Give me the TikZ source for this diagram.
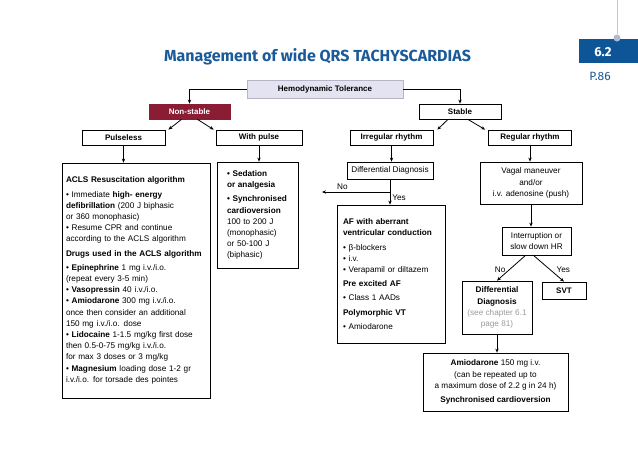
\documentclass[tikz,border=0pt]{standalone}
\usepackage{fontspec}
\setmainfont{Liberation Sans}
\newfontfamily\titlefont{Fira Sans}
\usetikzlibrary{arrows.meta}

\definecolor{titleblue}{HTML}{1B5A98}
\definecolor{tabblue}{HTML}{0D5597}
\definecolor{unstablered}{HTML}{8A1C34}
\definecolor{tolerancefill}{HTML}{E3E3F1}
\definecolor{tolerancedraw}{HTML}{B5B5C6}
\definecolor{pinline}{HTML}{C3C7D3}
\definecolor{pinhead}{HTML}{B2BAD3}
\definecolor{refgray}{HTML}{9A9A9A}

\tikzset{
  box/.style={draw, line width=0.8pt, inner sep=0pt, font=\BOXFONT, align=center},
  plainbox/.style={box, font=\TXTFONT},
  textbox/.style={draw, line width=0.8pt, inner ysep=0pt, font=\TXTFONT, align=left},
  answer/.style={font=\TXTFONT, inner sep=2pt},
}

\begin{document}
\begin{tikzpicture}[x=1pt, y=-1pt, >={Stealth[length=4pt,width=3.4pt]}, line width=0.8pt]

  \newcommand\BOXFONT{\fontsize{8}{10}\selectfont\bfseries}
  \newcommand\TXTFONT{\fontsize{8.2}{11.2}\selectfont}

  \useasboundingbox (0,0) rectangle (638,453);

  \node[font=\titlefont\bfseries\fontsize{16}{18}\selectfont, text=titleblue] (title) at (317.5,57) {Management of wide QRS TACHYSCARDIAS};
  \fill[tabblue] (579,39) rectangle (638,63);
  \coordinate (pintop) at (617,0);
  \node[circle, fill=pinhead, inner sep=0pt, minimum size=7pt] (pin) at (617,38) {};
  \draw[pinline, line width=1pt] (pintop) -- (pin);
  \node[text=white, font=\titlefont\bfseries\fontsize{13}{15}\selectfont] (chapter) at (603,52) {6.2};
  \node[text=titleblue, font=\titlefont\fontsize{12}{14}\selectfont] (page) at (600,76) {P.86};

  \node[box, fill=tolerancefill, draw=tolerancedraw, minimum width=156pt, minimum height=18pt] (tolerance) at (325,89) {Hemodynamic Tolerance};
  \node[box, fill=unstablered, draw=unstablered, text=white, minimum width=81pt, minimum height=15pt] (nonstable) at (189.5,111.5) {Non-stable};
  \node[box, minimum width=82pt, minimum height=15pt] (stable) at (460,111.5) {Stable};

  \node[box, minimum width=83pt, minimum height=15pt] (pulseless) at (123.5,137.5) {Pulseless};
  \node[box, minimum width=86pt, minimum height=15pt] (withpulse) at (259,137.5) {With pulse};
  \node[box, minimum width=83pt, minimum height=15pt] (irregular) at (391.5,137.5) {Irregular rhythm};
  \node[box, minimum width=83pt, minimum height=15pt] (regular) at (530,137.5) {Regular rhythm};

  \node[textbox, text width=140pt, inner xsep=4pt, minimum height=235pt] (acls) at (136,280.5) {%
    \textbf{ACLS Resuscitation algorithm}\\[3pt]
    • Immediate \textbf{high- energy}\\
    \textbf{defibrillation} (200 J biphasic\\
    or 360 monophasic)\\
    • Resume CPR and continue\\
    according to the ACLS algorithm\\[3pt]
    \textbf{Drugs used in the ACLS algorithm}\\[3pt]
    • \textbf{Epinephrine} 1 mg i.v./i.o.\\
    (repeat every 3-5 min)\\
    • \textbf{Vasopressin} 40 i.v./i.o.\\
    • \textbf{Amiodarone} 300 mg i.v./i.o.\\
    once then consider an additional\\
    150 mg i.v./i.o. dose\\
    • \textbf{Lidocaine} 1-1.5 mg/kg first dose\\
    then 0.5-0-75 mg/kg i.v./i.o.\\
    for max 3 doses or 3 mg/kg\\
    • \textbf{Magnesium} loading dose 1-2 gr\\
    i.v./i.o. for torsade des pointes};
  \node[textbox, text width=61pt, inner xsep=10pt, minimum height=106pt] (sedation) at (257.5,215) {%
    \textbf{• Sedation}\\
    \textbf{or analgesia}\\[3pt]
    \textbf{• Synchronised}\\
    \textbf{cardioversion}\\
    100 to 200 J\\
    (monophasic)\\
    or 50-100 J\\
    (biphasic)};

  \node[plainbox, minimum width=86pt, minimum height=17pt] (diagnosis) at (390,170.5) {Differential Diagnosis};
  \node[textbox, text width=96pt, inner xsep=6pt, minimum height=138pt] (af) at (391,274) {%
    \textbf{AF with aberrant}\\
    \textbf{ventricular conduction}\\[3pt]
    • β-blockers\\
    • i.v.\\
    • Verapamil or diltazem\\[3pt]
    \textbf{Pre excited AF}\\[3pt]
    • Class 1 AADs\\[3pt]
    \textbf{Polymorphic VT}\\[3pt]
    • Amiodarone};

  \node[plainbox, minimum width=102pt, minimum height=42pt] (vagal) at (531,183) {Vagal maneuver\\ and/or\\ i.v. adenosine (push)};
  \node[plainbox, minimum width=69pt, minimum height=28pt] (interrupt) at (536.5,241) {Interruption or\\ slow down HR};
  \node[plainbox, minimum width=70pt, minimum height=53pt] (dd2) at (497,307.5) {\textbf{Differential}\\ \textbf{Diagnosis}\\ \textcolor{refgray}{(see chapter 6.1}\\ \textcolor{refgray}{page 81)}};
  \node[box, minimum width=44pt, minimum height=17pt] (svt) at (564,290.5) {SVT};
  \node[plainbox, minimum width=145pt, minimum height=58pt] (amio) at (495.5,382) {\textbf{Amiodarone} 150 mg i.v.\\ (can be repeated up to\\ a maximum dose of 2.2 g in 24 h)\\[3pt] \textbf{Synchronised cardioversion}};

  \draw[->] (tolerance.west) -| (nonstable.north);
  \draw[->] (tolerance.east) -| (stable.north);
  \draw[->] ([xshift=-8pt]nonstable.south) -- ([xshift=3pt]pulseless.north east);
  \draw[->] ([xshift=8pt]nonstable.south) -- ([xshift=-2pt]withpulse.north west);
  \draw[->] ([xshift=-12pt]stable.south) -- ([xshift=4pt]irregular.north east);
  \draw[->] ([xshift=8pt]stable.south) -- ([xshift=-3pt]regular.north west);

  \draw[->] (pulseless) -- (pulseless |- acls.north);
  \draw[->] (withpulse) -- (withpulse |- sedation.north);
  \draw[->] (irregular) -- (irregular |- diagnosis.north);
  \draw[->] (regular) -- (regular |- vagal.north);

  \coordinate (fork) at (diagnosis.south |- 0,192);
  \coordinate (nogoal) at (322,192);
  \draw (diagnosis) -- (fork);
  \draw[->] (fork) -- node[answer, right, pos=0.45]{Yes} (fork |- af.north);
  \draw[->] (fork) -- node[answer, above, pos=0.7]{No} (nogoal);

  \draw[->] (vagal) -- (vagal |- interrupt.north);
  \draw[->] ([xshift=-11pt]interrupt.south) -- node[answer, left, pos=0.55, xshift=-2pt]{No} (dd2.north);
  \draw[->] ([xshift=-3pt]interrupt.south) -- node[answer, right, pos=0.55, xshift=4pt]{Yes} (svt.north);
  \draw[->] (dd2) -- (dd2 |- amio.north);

\end{tikzpicture}
\end{document}
